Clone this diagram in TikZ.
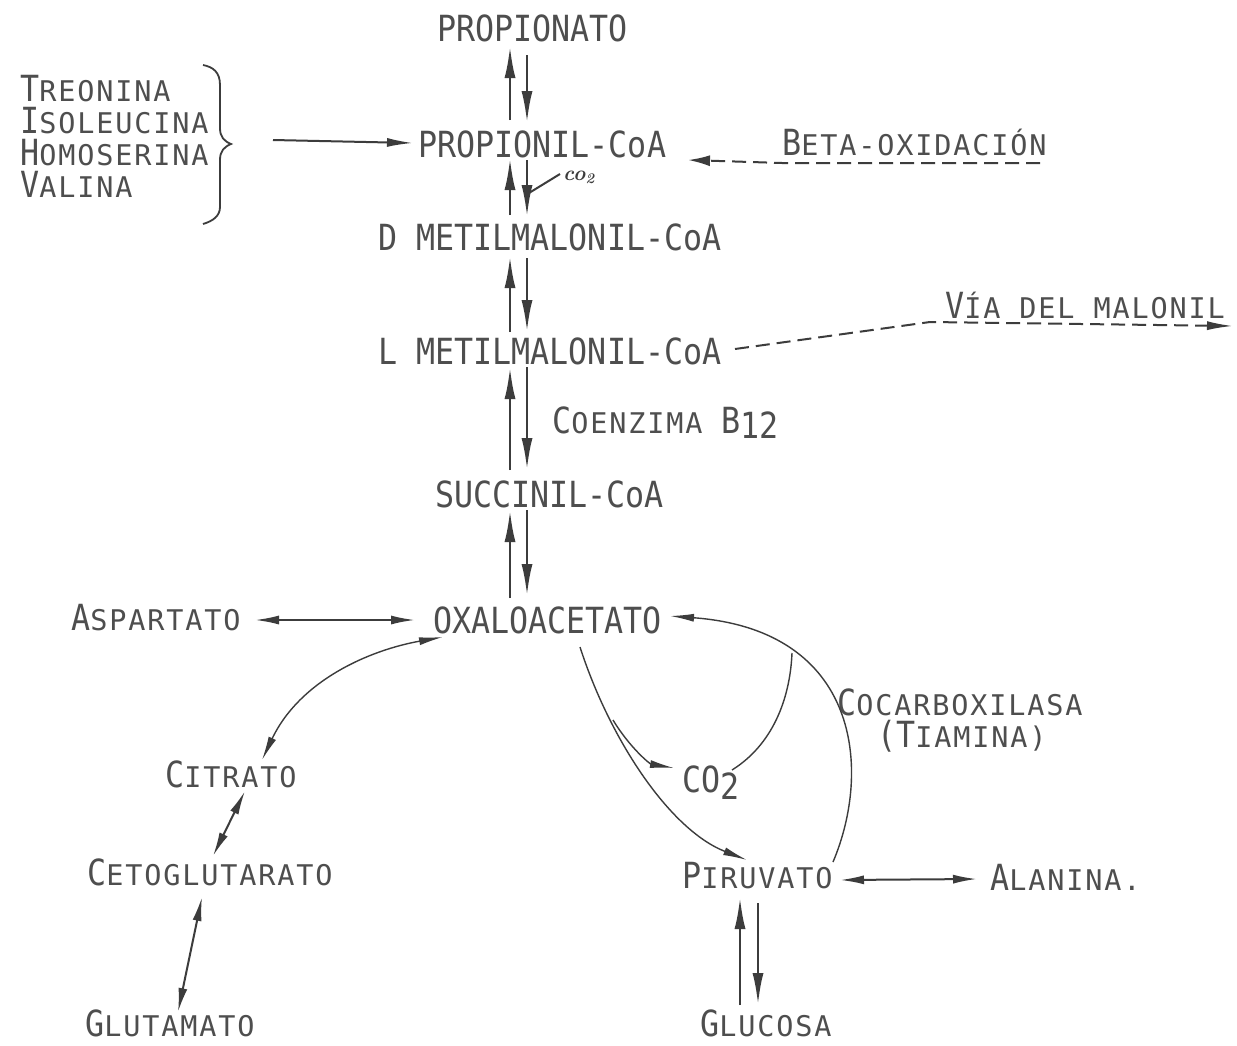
\documentclass[tikz,border=0pt]{standalone}
\usepackage{fontspec}
\usetikzlibrary{arrows.meta}
\newfontfamily\twA[FakeStretch=0.88]{DejaVu Sans Mono}
\newfontfamily\twB[LetterSpace=6.5]{DejaVu Sans Mono}
\definecolor{txt}{RGB}{78,78,78}
\definecolor{ln}{RGB}{60,60,60}
\newcommand\BG[1]{{\twA\fontsize{36}{38}\selectfont #1}}
\newcommand\SM[1]{{\twB\fontsize{28.5}{32}\selectfont #1}}
\tikzset{
  lbl/.style={anchor=base west, inner sep=0pt, text=txt, text height=25pt, text depth=3pt},
  vA/.style={draw=ln, line width=2.8pt, -{Latex[length=32pt,width=11pt]}},
  hA/.style={draw=ln, line width=2pt, {Latex[length=24pt,width=9pt]}-{Latex[length=24pt,width=9pt]}},
  cA/.style={draw=ln, line width=1.4pt},
  tipc/.style={-{Latex[length=24pt,width=8pt]}},
  dA/.style={draw=ln, line width=2pt, dash pattern=on 14pt off 7pt},
}
\begin{document}
\begin{tikzpicture}[x=1pt,y=-1pt]
\fill[white] (0,0) rectangle (1237,1045);
\useasboundingbox (0,0) rectangle (1237,1045);

% ---- text nodes ----
\node[lbl] (propionato) at (437,41) {\BG{PROPIONATO}};
\node[lbl] (propionil) at (418,157) {\BG{PROPIONIL-CoA}};
\node[lbl] (dmetil) at (378,250) {\BG{D METILMALONIL-CoA}};
\node[lbl] (lmetil) at (378,364) {\BG{L METILMALONIL-CoA}};
\node[lbl] (coenz) at (552,433) {\BG{C}\SM{OENZIMA }\BG{B\raisebox{-5pt}{12}}};
\node[lbl] (succ) at (435,507) {\BG{SUCCINIL-CoA}};
\node[lbl] (oxal) at (433,633) {\BG{OXALOACETATO}};
\node[lbl, text height=21pt, text depth=2pt] (treo) at (20,101) {\BG{T}\SM{REONINA}};
\node[lbl, text height=21pt, text depth=2pt] (isol) at (20,133) {\BG{I}\SM{SOLEUCINA}};
\node[lbl, text height=21pt, text depth=2pt] (homo) at (20,165) {\BG{H}\SM{OMOSERINA}};
\node[lbl, text height=21pt, text depth=2pt] (vali) at (20,197) {\BG{V}\SM{ALINA}};
\node[lbl] (beta) at (782,155) {\BG{B}\SM{ETA-OXIDACIÓN}};
\node[lbl] (via) at (945,318) {\BG{V}\SM{ÍA DEL MALONIL}};
\node[lbl] (aspa) at (71,630) {\BG{A}\SM{SPARTATO}};
\node[lbl] (citr) at (165,787) {\BG{C}\SM{ITRATO}};
\node[lbl] (ceto) at (87,885) {\BG{C}\SM{ETOGLUTARATO}};
\node[lbl] (glut) at (85,1036) {\BG{G}\SM{LUTAMATO}};
\node[lbl] (cod) at (682,792) {\BG{CO\raisebox{-7pt}{2}}};
\node[lbl] (cocarb) at (837,715) {\BG{C}\SM{OCARBOXILASA}};
\node[lbl] (tiam) at (877,747) {\BG{(T}\SM{IAMINA)}};
\node[lbl] (piru) at (682,888) {\BG{P}\SM{IRUVATO}};
\node[lbl] (alan) at (990,890) {\BG{A}\SM{LANINA.}};
\node[lbl] (gluc) at (700,1036) {\BG{G}\SM{LUCOSA}};
\node[anchor=base west, inner sep=0pt, text=ln] (cosm) at (563,180) {\fontsize{21}{21}\selectfont\itshape\bfseries co\textsubscript{2}};

% ---- coordinates ----
\coordinate (a1) at (510,120); \coordinate (a2) at (510,46);
\coordinate (a3) at (527,55);  \coordinate (a4) at (527,123);
\coordinate (b1) at (510,215); \coordinate (b2) at (510,158);
\coordinate (b3) at (527,160); \coordinate (b4) at (527,217);
\coordinate (b5) at (560,174); \coordinate (b6) at (529,193);
\coordinate (c1) at (510,332); \coordinate (c2) at (510,256);
\coordinate (c3) at (527,258); \coordinate (c4) at (527,332);
\coordinate (d1) at (510,470); \coordinate (d2) at (510,367);
\coordinate (d3) at (527,367); \coordinate (d4) at (527,470);
\coordinate (e1) at (510,598); \coordinate (e2) at (510,510);
\coordinate (e3) at (527,510); \coordinate (e4) at (527,596);
\coordinate (t1) at (273,140); \coordinate (t2) at (413,143);
\coordinate (be1) at (1040,163); \coordinate (be2) at (782,163); \coordinate (be3) at (688,160);
\coordinate (m1) at (735,349); \coordinate (m2) at (930,322); \coordinate (m3) at (1233,326);
\coordinate (as1) at (255,620); \coordinate (as2) at (415,620);
\coordinate (oc1) at (443,637); \coordinate (oc2) at (262,760);
\coordinate (ck1) at (245,791); \coordinate (ck2) at (213,856);
\coordinate (kg1) at (202,897); \coordinate (kg2) at (178,1012);
\coordinate (op1) at (580,647); \coordinate (op2) at (747,860);
\coordinate (br1) at (613,720); \coordinate (br2) at (674,768);
\coordinate (pa1) at (833,862); \coordinate (pa2) at (670,616);
\coordinate (jn) at (792,653); \coordinate (jc) at (732,770);
\coordinate (pl1) at (840,880); \coordinate (pl2) at (977,879);
\coordinate (g1) at (740,1005); \coordinate (g2) at (740,897);
\coordinate (g3) at (758,903);  \coordinate (g4) at (758,1005);

% ---- vertical arrow pairs ----
\draw[vA] (a1) -- (a2); \draw[vA] (a3) -- (a4);
\draw[vA] (b1) -- (b2); \draw[vA] (b3) -- (b4);
\draw[ln, line width=2pt] (b5) -- (b6);
\draw[vA] (c1) -- (c2); \draw[vA] (c3) -- (c4);
\draw[vA] (d1) -- (d2); \draw[vA] (d3) -- (d4);
\draw[vA] (e1) -- (e2); \draw[vA] (e3) -- (e4);
\draw[vA] (g1) -- (g2); \draw[vA] (g3) -- (g4);

% ---- bracket ----
\draw[ln, line width=1.8pt] (203,65) .. controls (213,67) and (220,72) .. (220,85) -- (220,128)
  .. controls (220,137) and (224,141) .. (231,144) .. controls (224,147) and (220,151) .. (220,160)
  -- (220,207) .. controls (220,216) and (213,221) .. (203,224);
\draw[ln, line width=2pt, -{Latex[length=26pt,width=9pt]}] (t1) -- (t2);

% ---- dashed ----
\draw[dA, -{Latex[length=22pt,width=11pt]}] (be1) -- (be2) -- (be3);
\draw[dA, -{Latex[length=26pt,width=9pt]}] (m1) -- (m2) -- (m3);

% ---- lower connectors ----
\draw[hA] (as1) -- (as2);
\draw[hA] (pl1) -- (pl2);
\draw[cA, {Latex[length=24pt,width=8pt]}-{Latex[length=24pt,width=8pt]}] (oc1) .. controls (370,650) and (300,680) .. (oc2);
\draw[hA] (ck1) -- (ck2);
\draw[hA] (kg1) -- (kg2);
\draw[cA, tipc] (op1) .. controls (610,740) and (670,830) .. (op2);
\draw[cA, tipc] (br1) .. controls (630,748) and (650,764) .. (br2);
\draw[cA, tipc] (pa1) .. controls (872,770) and (860,630) .. (pa2);
\draw[cA] (jn) .. controls (790,700) and (772,745) .. (jc);
\end{tikzpicture}
\end{document}
